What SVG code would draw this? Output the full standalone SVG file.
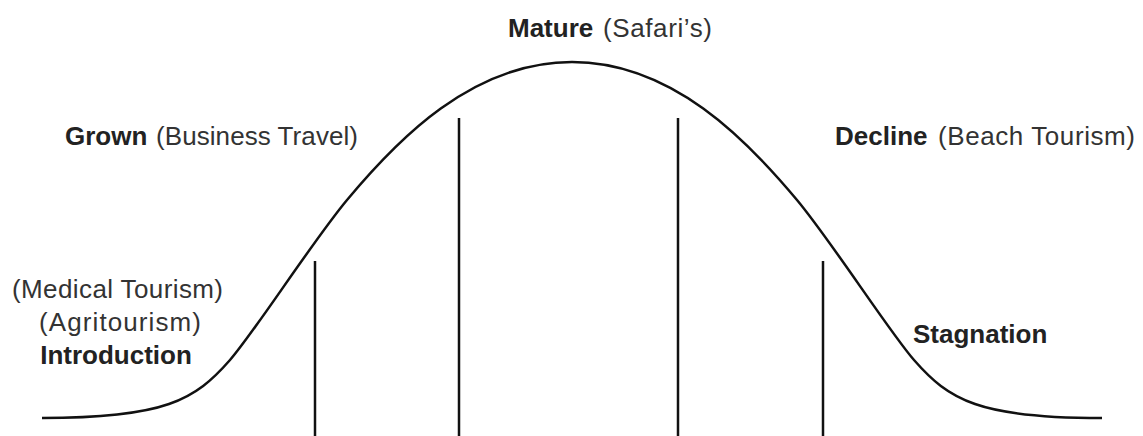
<svg xmlns="http://www.w3.org/2000/svg" width="1143" height="436" viewBox="0 0 1143 436">
<style>
.b{font-family:"Liberation Sans",Arial,sans-serif;font-weight:bold;font-size:26px;fill:#222}
.r{font-family:"Liberation Sans",Arial,sans-serif;font-weight:normal;font-size:26px;fill:#333}
.ln{stroke:#111;stroke-width:2.5;fill:none}
</style>
<rect width="1143" height="436" fill="#fff"/>
<g id="connectors">
<path class="ln" d="M42,418 C165,418 195,400 230,360 C255,331.4 312,242 347,200 C397,140 472,62 572,62 C672,62 747,140 797,200 C832,242 889,331.4 914,360 C949,400 979,418 1102,418"/>
<line class="ln" x1="315" y1="261" x2="315" y2="436"/>
<line class="ln" x1="459" y1="118" x2="459" y2="436"/>
<line class="ln" x1="678" y1="118" x2="678" y2="436"/>
<line class="ln" x1="823" y1="261" x2="823" y2="436"/>
</g>
<g id="mature">
<text class="b" x="508" y="37">Mature</text>
<text class="r" x="603" y="37" textLength="109" lengthAdjust="spacing">(Safari’s)</text>
</g>
<g id="grown">
<text class="b" x="65" y="145">Grown</text>
<text class="r" x="156" y="145" textLength="202" lengthAdjust="spacing">(Business Travel)</text>
</g>
<g id="decline">
<text class="b" x="835" y="145">Decline</text>
<text class="r" x="938" y="145" textLength="197" lengthAdjust="spacing">(Beach Tourism)</text>
</g>
<g id="introduction">
<text class="r" x="12" y="298" textLength="211" lengthAdjust="spacing">(Medical Tourism)</text>
<text class="r" x="39" y="331" textLength="162" lengthAdjust="spacing">(Agritourism)</text>
<text class="b" x="116" y="364" text-anchor="middle">Introduction</text>
</g>
<g id="stagnation"><text class="b" x="913" y="343">Stagnation</text></g>
</svg>
